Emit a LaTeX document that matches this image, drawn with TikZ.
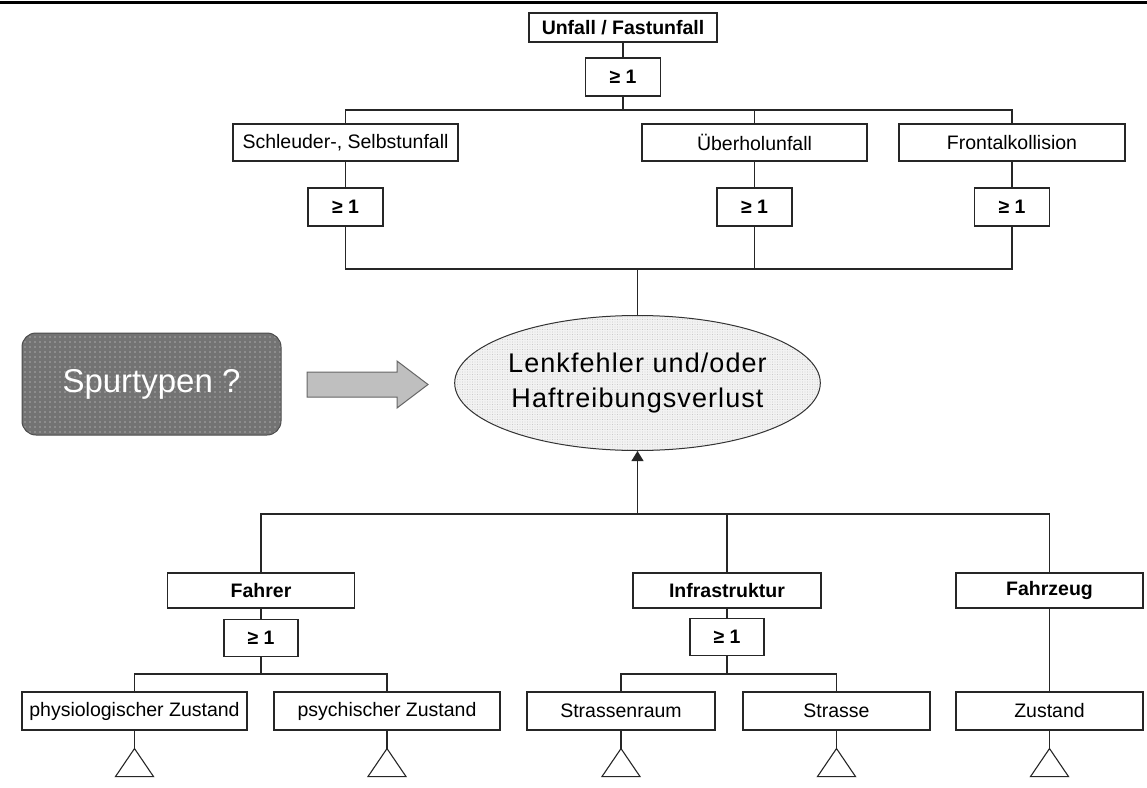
\documentclass[tikz,border=0pt]{standalone}
\usepackage{fontspec}
\setmainfont{Liberation Sans}
\newfontfamily\ellfont[LetterSpace=4]{Liberation Sans}
\usetikzlibrary{shapes.geometric,arrows.meta,patterns.meta}

\begin{document}
\begin{tikzpicture}[x=1pt,y=-1pt,
  lbl/.style={draw=black!85, fill=white, line width=1.1pt, inner sep=0pt,
    font=\fontsize{19.5}{22}\selectfont},
  lblb/.style={lbl, font=\fontsize{19.5}{22}\selectfont\bfseries},
  gate/.style={lblb, minimum width=75pt, minimum height=38pt},
  wide/.style={lbl, minimum width=225pt, minimum height=37pt},
  mid/.style={minimum width=187pt, minimum height=35pt},
  leaf/.style={lbl, minimum height=38pt},
  conn/.style={draw=black!85, line width=1.1pt},
  tri/.style={conn, line join=miter}]

\useasboundingbox (0,0) rectangle (1147,787);

% rule across the top
\draw[line width=3pt] (0,2) -- (1147,2);

% bus levels
\coordinate (b1) at (0,110);
\coordinate (b2) at (0,269);
\coordinate (b3) at (0,514);
\coordinate (b4) at (0,674);

% upper part of the tree
\node[lblb, minimum width=188pt, minimum height=29pt] (top) at (623,27.5) {Unfall / Fastunfall};
\node[gate] (g0) at (623,77) {≥ 1};

\node[wide] (schl)  at (345.5,142.5) {Schleuder-, Selbstunfall};
\node[wide] (ueber) at (754.5,142.5) {Überholunfall};
\node[wide, minimum width=226pt] (front) at (1012,142.5) {Frontalkollision};

\node[gate] (g1) at (345.5,207) {≥ 1};
\node[gate] (g2) at (754.5,207) {≥ 1};
\node[gate] (g3) at (1012,207) {≥ 1};

% central event
\node[ellipse, draw=black!80, line width=1pt, minimum width=359pt, minimum height=135pt,
  inner sep=0pt, preaction={fill=gray!10},
  pattern={Dots[distance=2.5pt,radius=0.45pt]}, pattern color=gray!60,
  align=center, font=\ellfont\fontsize{27}{35}\selectfont] (ell) at (637.5,383)
  {Lenkfehler und/oder\\Haftreibungsverlust};

% question box and block arrow
\node[rectangle, rounded corners=14pt, draw=black!70, line width=1pt,
  minimum width=259pt, minimum height=102pt, inner sep=0pt,
  preaction={fill=black!55}, pattern={Dots[distance=5pt,radius=0.6pt]},
  pattern color=white!80!gray, text=white,
  font=\fontsize{33}{38}\selectfont] (spur) at (151.5,384) {Spurtypen ?};
\draw[draw=black!60, fill=black!25, line width=1pt, line join=miter]
  (307,372) -- (397,372) -- (397,361) -- (428,384.5) -- (397,408) -- (397,397) -- (307,397) -- cycle;

% lower part of the tree
\node[lblb, mid] (fahrer) at (261,590.5) {Fahrer};
\node[lblb, mid, minimum width=188pt] (infra) at (727,590.5) {Infrastruktur};
\node[lblb, mid] (fzg) at (1049.5,590.5) {Fahrzeug};

\node[gate, minimum width=74pt, minimum height=37pt] (g4) at (261,638) {≥ 1};
\node[gate, minimum width=74pt, minimum height=37pt] (g5) at (727,637) {≥ 1};

\node[leaf, minimum width=225pt] (phys)    at (134.5,711) {physiologischer Zustand};
\node[leaf, minimum width=226pt] (psych)   at (387,711)   {psychischer Zustand};
\node[leaf, minimum width=188pt] (sraum)   at (621,711)   {Strassenraum};
\node[leaf, minimum width=187pt] (strasse) at (836.5,711) {Strasse};
\node[leaf, minimum width=187pt] (zust)    at (1049.5,711) {Zustand};

% connectors, top half
\draw[conn] (top) -- (g0);
\draw[conn] (g0.south) -- (g0.south |- b1) -| (schl.north);
\draw[conn] (g0.south |- b1) -| (ueber.north);
\draw[conn] (g0.south |- b1) -| (front.north);
\draw[conn] (schl) -- (g1);
\draw[conn] (ueber) -- (g2);
\draw[conn] (front) -- (g3);
\draw[conn] (ell.north) -- (ell.north |- b2) -| (g1.south);
\draw[conn] (ell.north |- b2) -| (g2.south);
\draw[conn] (ell.north |- b2) -| (g3.south);

% connectors, bottom half
\draw[conn, -{Triangle[width=12pt,length=10pt]}] (ell.south |- b3) -- (ell.south);
\draw[conn] (ell.south |- b3) -| (fahrer.north);
\draw[conn] (ell.south |- b3) -| (infra.north);
\draw[conn] (ell.south |- b3) -| (fzg.north);
\draw[conn] (fahrer) -- (g4);
\draw[conn] (infra) -- (g5);
\draw[conn] (g4.south) -- (g4.south |- b4) -| (phys.north);
\draw[conn] (g4.south |- b4) -| (psych.north);
\draw[conn] (g5.south) -- (g5.south |- b4) -| (sraum.north);
\draw[conn] (g5.south |- b4) -| (strasse.north);
\draw[conn] (fzg) -- (zust);

% undeveloped events below the leaves
\foreach \n in {phys,psych,sraum,strasse,zust}{
  \draw[conn] (\n.south) -- ++(0,18) coordinate (\n-t);
  \draw[tri] (\n-t) -- ++(19,28) -- ++(-38,0) -- cycle;
}
\end{tikzpicture}
\end{document}
